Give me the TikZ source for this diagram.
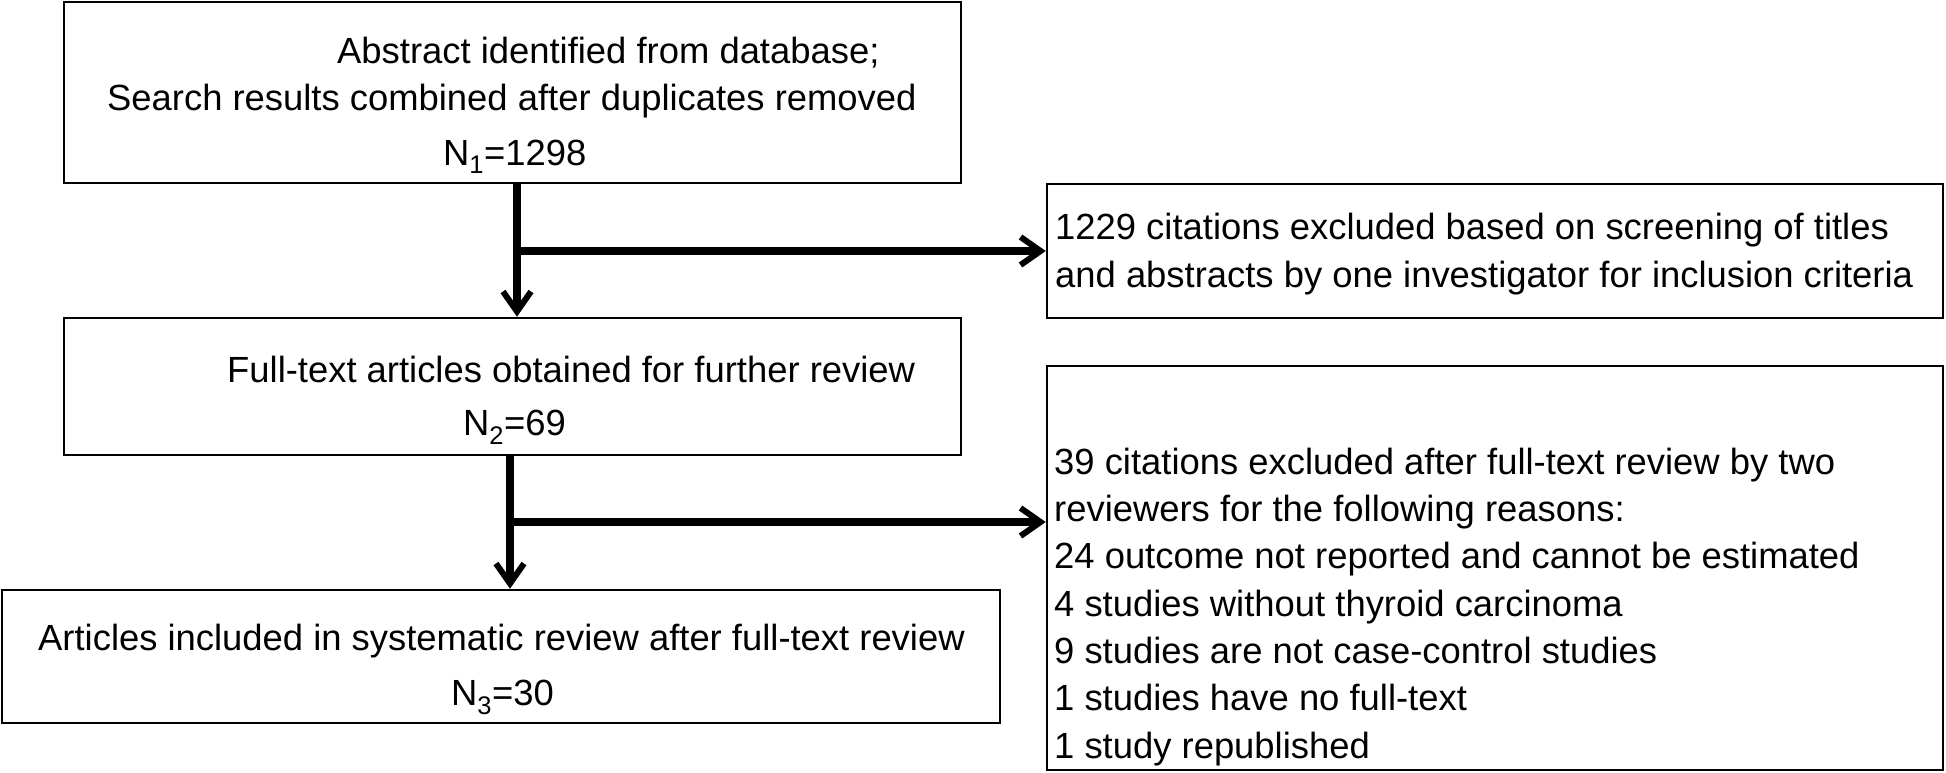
\documentclass[tikz,border=0pt]{standalone}
\usepackage{fontspec}
\setmainfont{Liberation Sans}
\usetikzlibrary{arrows.meta}
\begin{document}
\begin{tikzpicture}[x=1pt,y=-1pt,
  box/.style={draw, line width=2.5pt, rectangle, inner sep=0pt},
  txt/.style={anchor=base west, inner sep=0pt, font=\fontsize{36.4}{44}\selectfont},
  arr/.style={line width=7.5pt, -{Straight Barb[length=20pt,width=28pt,line width=6pt]}}]
\useasboundingbox (0,0) rectangle (1946,772);
% boxes
\node[box, minimum width=897pt, minimum height=181pt] (b1) at (512.5,92.5) {};
\node[box, minimum width=896pt, minimum height=134pt] (b2) at (1495,251) {};
\node[box, minimum width=897pt, minimum height=137pt] (b3) at (512.5,386.5) {};
\node[box, minimum width=998pt, minimum height=133pt] (b4) at (501,656.5) {};
\node[box, minimum width=896pt, minimum height=404pt] (b5) at (1495,568) {};
% texts box 1
\node[txt] (t1a) at (337,63) {Abstract identified from database;};
\node[txt] (t1b) at (107,110) {Search results combined after duplicates removed};
\node[txt] (t1c) at (443,165) {N\textsubscript{1}=1298};
% box 2
\node[txt] (t2a) at (1055,239) {1229 citations excluded based on screening of titles};
\node[txt] (t2b) at (1055,287) {and abstracts by one investigator for inclusion criteria};
% box 3
\node[txt] (t3a) at (227,382) {Full-text articles obtained for further review};
\node[txt] (t3b) at (463,435) {N\textsubscript{2}=69};
% box 4
\node[txt] (t4a) at (38,650) {Articles included in systematic review after full-text review};
\node[txt] (t4b) at (451,705) {N\textsubscript{3}=30};
% box 5
\node[txt] (t5a) at (1054,474) {39 citations excluded after full-text review by two};
\node[txt] (t5b) at (1054,521) {reviewers for the following reasons:};
\node[txt] (t5c) at (1054,568) {24 outcome not reported and cannot be estimated};
\node[txt] (t5d) at (1054,616) {4 studies without thyroid carcinoma};
\node[txt] (t5e) at (1054,663) {9 studies are not case-control studies};
\node[txt] (t5f) at (1054,710) {1 studies have no full-text};
\node[txt] (t5g) at (1054,758) {1 study republished};
% connectors
\coordinate (j1) at (517,251);
\coordinate (j2) at (510,522);
\draw[arr] (b1.south -| j1) -- (b3.north -| j1);
\draw[arr] (j1) -- (b2.west |- j1);
\draw[arr] (b3.south -| j2) -- (b4.north -| j2);
\draw[arr] (j2) -- (b5.west |- j2);
\end{tikzpicture}
\end{document}
